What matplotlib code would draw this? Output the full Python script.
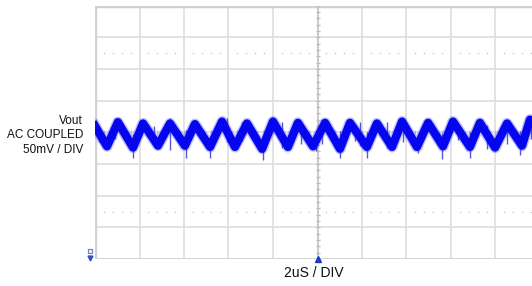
import matplotlib
matplotlib.use("Agg")
import matplotlib.pyplot as plt
import numpy as np

# --- data ---
# waveform turning points: time in microseconds from left edge, voltage in mV (AC coupled)
t_us = [0.00, 0.54, 1.03, 1.71, 2.16, 2.83, 3.37, 4.04, 4.49, 5.17, 5.71, 6.29,
        6.83, 7.51, 8.00, 8.67, 9.12, 9.80, 10.34, 11.01, 11.46, 12.22, 12.67,
        13.35, 13.80, 14.47, 14.97, 15.64, 16.09, 16.85, 17.30, 17.98, 18.52,
        19.19, 19.55, 19.78]
v_mV = [10, -22, 16, -24, 14, -21, 14, -21, 13, -23, 17, -23, 14, -26, 17, -23,
        15, -22, 15, -26, 15, -23, 14, -23, 17, -23, 15, -22, 17, -23, 15, -24,
        14, -21, 20, 14]

# noise spikes: time (us), top (mV), bottom (mV)
spike_t = [0.18, 0.90, 1.71, 2.65, 3.37, 4.09, 5.17, 5.93, 6.60, 7.55, 8.40,
           9.25, 9.95, 10.20, 11.01, 11.70, 11.90, 12.22, 13.12, 13.84, 14.50,
           15.60, 16.30, 16.85, 17.62, 18.52, 19.10, 19.60]
spike_top = [10, 22, -3, 10, 22, 3, -5, 22, 16, -5, 16, 13, -2, 19, 2, 12, 16,
             0, 16, 19, -2, -3, 14, 0, 12, 19, 2, 22]
spike_bot = [-16, -10, -40, -22, -28, -40, -40, -15, -14, -44, -24, -18, -30,
             -18, -40, -14, -21, -40, -24, -16, -32, -42, -12, -40, -27, -18,
             -36, -10]

x_major = np.arange(0, 21, 2)
y_major = np.arange(-200, 201, 50)

ch_label = ["Vout", "AC COUPLED", "50mV / DIV"]
time_label = "2uS / DIV"

# --- figure ---
W, H = 532, 286
fig = plt.figure(figsize=(W / 100, H / 100), dpi=100)
plt.rcParams['font.family'] = ['Liberation Sans', 'DejaVu Sans']

left_px, right_px, top_px, bot_px = 95, 540, 5.7, 259
ax = fig.add_axes([left_px / W, 1 - bot_px / H, (right_px - left_px) / W,
                   (bot_px - top_px) / H])
ax.set_xlim(0, 20)
ax.set_ylim(-200, 200)
ax.set_xticks([]); ax.set_yticks([])
for s in ax.spines.values():
    s.set_visible(False)

gc = "#e0e0e0"
for x in x_major:
    ax.axvline(x, color=gc, lw=1.3, zorder=1)
for y in y_major:
    ax.axhline(y, color=gc, lw=1.3, zorder=1)
# border (top and left slightly darker)
ax.axhline(200, color="#d2d2d2", lw=2.5, zorder=1)
ax.axvline(0, color="#d2d2d2", lw=2.5, zorder=1)
ax.axhline(-200, color="#d2d2d2", lw=2.0, zorder=1)

# dotted rows at +/- 2.5 div
dot_x = [x + f for x in x_major[:-1] for f in (0.4, 0.8, 1.2, 1.6)]
for yd in (125, -125):
    ax.plot(dot_x, [yd] * len(dot_x), ls="none", marker="s", ms=1.0,
            color="#c8c8c8", mec="none", zorder=1)

# center axes minor ticks
ax.axvline(10, color="#c8c8c8", lw=1.3, zorder=1)
minor_y = np.arange(-200, 201, 10)
ax.plot([10] * len(minor_y), minor_y, ls="none", marker="_", ms=3.5, mew=0.9,
        color="#bdbdbd", zorder=2)
minor_x = np.arange(0, 20.01, 0.4)
ax.plot(minor_x, [0] * len(minor_x), ls="none", marker="|", ms=3.5, mew=0.9,
        color="#bdbdbd", zorder=2)

# spikes
ax.vlines(spike_t, spike_bot, spike_top, color="#3a3ad8", lw=1.0, alpha=0.85,
          zorder=3)
# waveform band (soft halo + core)
ax.plot(t_us, v_mV, color="#2a2aff", lw=8.0, alpha=0.3,
        solid_joinstyle="round", zorder=4)
ax.plot(t_us, v_mV, color="#0505f0", lw=6.0, solid_joinstyle="round",
        zorder=4)

# trigger marker
ax.plot([10], [-200], marker="^", ms=5, color="#1a3ad0", clip_on=False,
        zorder=6)
# ground marker (drawn as shapes)
gx_data = 20 * (90 - left_px) / (right_px - left_px)
ax.plot([gx_data], [-188], marker="s", ms=3.5, mfc="none", mec="#7080c8",
        mew=0.9, clip_on=False, zorder=6)
ax.plot([gx_data], [-199], marker="v", ms=3.5, color="#3050c0",
        clip_on=False, zorder=6)

# texts
ys = [121, 135.5, 150]
for txt, yy in zip(ch_label, ys):
    fig.text(83 / W, 1 - yy / H, txt, ha="right", va="center", fontsize=8.5,
             color="#111111")
fig.text(314 / W, 1 - 273 / H, time_label, ha="center", va="center",
         fontsize=10, color="#111111")

fig.savefig("out.png", dpi=100)
